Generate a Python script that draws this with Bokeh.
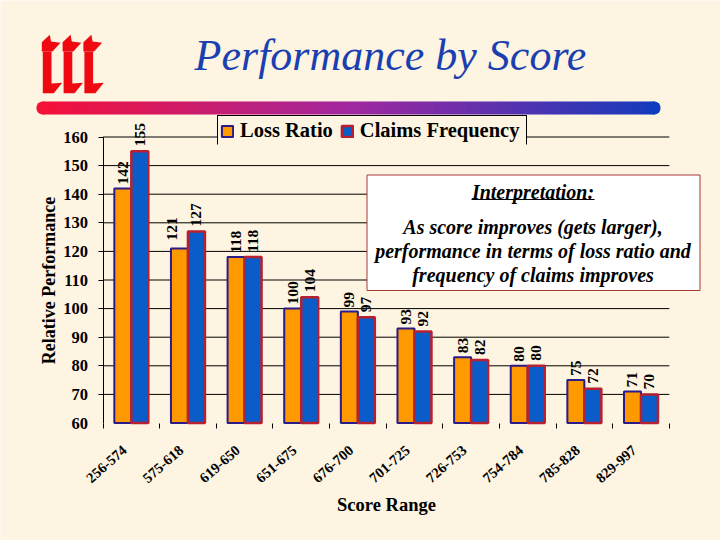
import numpy as np
from bokeh.plotting import figure
from bokeh.models import (Range1d, FixedTicker, ColumnDataSource, LabelSet, Label, Legend, LegendItem,
                          BoxAnnotation, PolyAnnotation, LinearAxis)
from bokeh.embed import file_html
from bokeh.resources import INLINE

categories = ["256-574", "575-618", "619-650", "651-675", "676-700",
              "701-725", "726-753", "754-784", "785-828", "829-997"]
loss_ratio = [142, 121, 118, 100, 99, 93, 83, 80, 75, 71]
claims_frequency = [155, 127, 118, 104, 97, 92, 82, 80, 72, 70]
y_ticks = [60, 70, 80, 90, 100, 110, 120, 130, 140, 150, 160]

PAPER = "#fdf4e1"
SERIF = "Liberation Serif"
W, H = 720, 540
L, R, T, B = 102.5, 668.8, 136.5, 422.5
n = len(categories)
ppx = (R - L) / n
ppy = (B - T) / (y_ticks[-1] - y_ticks[0])


def sx(px):
    return px


def sy(py):
    return H - py


def box(a, b, c, d, level="overlay", **kw):
    """A rectangle given in page pixels: left, top, right, bottom."""
    return BoxAnnotation(left=sx(a), right=sx(c), top=sy(b), bottom=sy(d), left_units="screen",
                         right_units="screen", top_units="screen", bottom_units="screen",
                         level=level, **kw)


p = figure(width=W, height=H, output_backend="svg", toolbar_location=None,
           x_range=Range1d(-L / ppx, n + (W - R) / ppx),
           y_range=Range1d(y_ticks[0] - (H - B) / ppy, y_ticks[-1] + T / ppy),
           x_axis_location=None, y_axis_location=None, min_border=0,
           background_fill_color=PAPER, border_fill_color=PAPER, outline_line_color=None)
p.grid.visible = False

p.segment(x0=0, x1=n, y0=y_ticks[1:], y1=y_ticks[1:], line_color="black", line_width=1)

bw = 0.30
centers = np.arange(n) + 0.5
src1 = ColumnDataSource(dict(x=centers - bw / 2, v=loss_ratio, t=[str(v) for v in loss_ratio],
                             dx=[-7 if i == 1 else 0 for i in range(n)],
                             dy=[8 if i == 1 else 4 for i in range(n)]))
src2 = ColumnDataSource(dict(x=centers + bw / 2, v=claims_frequency, t=[str(v) for v in claims_frequency]))
r1 = p.vbar(x="x", top="v", bottom=y_ticks[0], width=bw, source=src1, fill_color="#ff9900",
            line_color="#2a1a8a", line_width=2)
r2 = p.vbar(x="x", top="v", bottom=y_ticks[0], width=bw, source=src2, fill_color="#0a5cc8",
            line_color="#b82030", line_width=2.5)

lab = dict(text="t", angle=90, angle_units="deg", text_align="left", text_baseline="middle",
           text_font=SERIF, text_font_style="bold", text_font_size="15.5px", text_color="black")
p.add_layout(LabelSet(x="x", y="v", source=src1, x_offset="dx", y_offset="dy", **lab))
p.add_layout(LabelSet(x="x", y="v", source=src2, y_offset=5, **lab))

ya = LinearAxis(fixed_location=0, bounds=(y_ticks[0], y_ticks[-1]))
ya.ticker = FixedTicker(ticks=y_ticks, minor_ticks=y_ticks[1:])
ya.major_tick_in = 0
ya.major_tick_out = 0
ya.minor_tick_in = 0
ya.minor_tick_out = 5
ya.minor_tick_line_color = "black"
ya.axis_line_color = "black"
ya.major_tick_line_color = None
ya.major_label_text_font = SERIF
ya.major_label_text_font_style = "bold"
ya.major_label_text_font_size = "16.5px"
ya.major_label_text_color = "black"
ya.major_label_standoff = 10
ya.axis_label = "Relative Performance"
ya.axis_label_text_font = SERIF
ya.axis_label_text_font_style = "bold"
ya.axis_label_text_font_size = "18px"
ya.axis_label_text_color = "black"
ya.axis_label_standoff = 2
p.add_layout(ya, "left")

label_pos = centers - 0.12
xa = LinearAxis(fixed_location=y_ticks[0], bounds=(0, n))
xa.ticker = FixedTicker(ticks=list(label_pos), minor_ticks=list(range(n + 1)))
xa.major_label_overrides = {float(c): t for c, t in zip(label_pos, categories)}
xa.major_tick_in = 0
xa.major_tick_out = 0
xa.minor_tick_in = 0
xa.minor_tick_out = 5
xa.minor_tick_line_color = "black"
xa.axis_line_color = None
xa.major_label_orientation = 0.72
xa.major_label_text_font = SERIF
xa.major_label_text_font_style = "bold"
xa.major_label_text_font_size = "14.5px"
xa.major_label_text_color = "black"
xa.major_label_standoff = 20
xa.axis_label = "Score Range"
xa.axis_label_text_font = SERIF
xa.axis_label_text_font_style = "bold"
xa.axis_label_text_font_size = "18.5px"
xa.axis_label_text_color = "black"
xa.axis_label_standoff = 4
p.add_layout(xa, "below")

# legend
p.add_layout(box(217, 115, 526, 144, level="guide", fill_color=PAPER, fill_alpha=1, line_color=None))
leg = Legend(items=[LegendItem(label="Loss Ratio", renderers=[r1]),
                    LegendItem(label="Claims Frequency", renderers=[r2])],
             orientation="horizontal", location=(220, 398), background_fill_alpha=0,
             border_line_color=None, glyph_width=14, glyph_height=14,
             label_text_font=SERIF, label_text_font_style="bold", label_text_font_size="20.5px",
             label_text_color="black", padding=2, spacing=7, label_standoff=6, margin=0)
p.add_layout(leg, "center")
for a, b, c, d in [(216.5, 114.5, 217.5, 144), (525.5, 114.5, 526.5, 144), (216.5, 114.5, 526.5, 115.5)]:
    p.add_layout(box(a, b, c, d, fill_color="black", fill_alpha=1, line_color=None))

# rule with gradient
c0 = np.array([245, 16, 56])
c1 = np.array([160, 40, 160])
c2 = np.array([16, 60, 190])
for e in np.arange(42, 654, 8):
    f = (e - 36) / 624
    c = c0 + (c1 - c0) * f * 2 if f < .5 else c1 + (c2 - c1) * (f - .5) * 2
    col = "#%02x%02x%02x" % tuple(int(v) for v in c)
    p.add_layout(box(e, 101, min(e + 8.5, 654), 114, fill_color=col, fill_alpha=1, line_color=None))
for a, b, col in [(36, 49, "#f51038"), (647, 660, "#103cbe")]:
    p.add_layout(box(a, 101, b, 114, fill_color=col, fill_alpha=1, line_color=None, border_radius=6))

# logo
top = [(41.3, 51), (41.3, 41.7), (49.3, 34.3), (50.5, 41), (60, 42.3), (52, 51)]
stem = [(42.3, 51), (51, 51), (51, 83), (61.7, 82.3), (53.3, 92.7), (42.3, 92.7)]
for k in range(3):
    for shape in (top, stem):
        p.add_layout(PolyAnnotation(xs=[sx(x + k * 20.8) for x, y in shape], ys=[sy(y) for x, y in shape],
                                    xs_units="screen", ys_units="screen", fill_color="#ee0a10", fill_alpha=1,
                                    line_color=None, level="overlay"))

# interpretation box
p.add_layout(box(366.5, 174.5, 699.5, 290, fill_color="white", fill_alpha=1, line_color="#a83a3a",
                 line_alpha=1, line_width=1))


def text(s, x, y, size, style="bold italic", color="black", align="center"):
    p.add_layout(Label(x=sx(x), y=sy(y), x_units="screen", y_units="screen", text=s, text_font=SERIF,
                       text_font_style=style, text_font_size=size, text_color=color, text_align=align,
                       text_baseline="alphabetic", level="overlay"))


text("Performance by Score", 390, 55, "44px", "italic", "#1a3fb0")
text("Interpretation:", 532.5, 191, "20px")
p.add_layout(box(471, 198.5, 594, 199.5, fill_color="black", fill_alpha=1, line_color=None))
text("As score improves (gets larger),", 532.5, 226, "20px")
text("performance in terms of loss ratio and", 532.5, 250, "20px")
text("frequency of claims improves", 532.5, 274, "20px")

open("out.html", "w").write(file_html(p, INLINE))
